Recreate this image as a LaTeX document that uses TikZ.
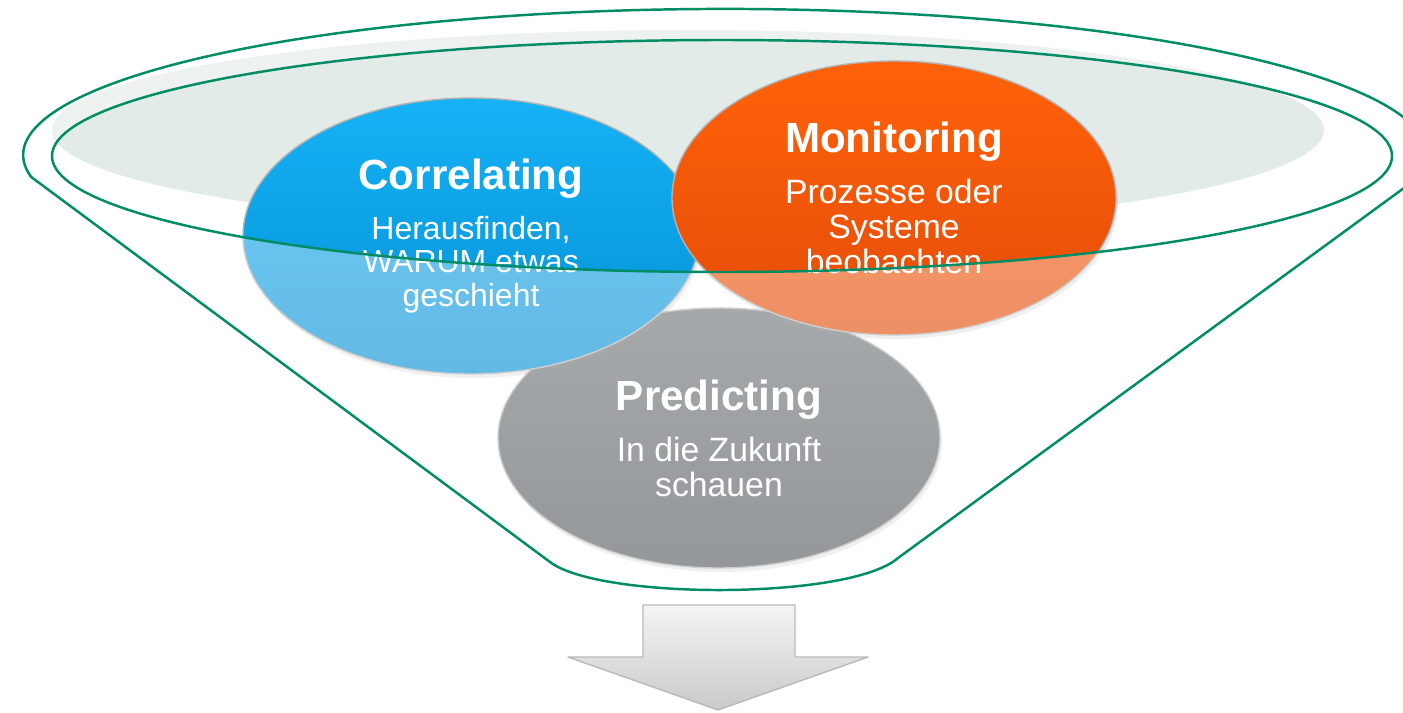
\documentclass[tikz,border=0pt]{standalone}
\usepackage{fontspec}
\setmainfont{Liberation Sans}
\usetikzlibrary{shapes.geometric,shadows}
\definecolor{trichter}{RGB}{0,140,100}
\definecolor{hgrund}{RGB}{227,235,232}
\definecolor{blauA}{RGB}{22,178,245}
\definecolor{blauB}{RGB}{3,143,213}
\definecolor{orangeA}{RGB}{255,98,10}
\definecolor{orangeB}{RGB}{228,76,8}
\definecolor{grauA}{RGB}{112,117,120}
\definecolor{grauB}{RGB}{84,89,93}
\newcommand{\blasentitel}[1]{{\fontsize{12}{14}\selectfont\bfseries #1}}
\begin{document}
\begin{tikzpicture}[line cap=round, line join=round,
    blase/.style={ellipse, inner sep=0pt, outer sep=0pt, text=white, align=center,
      font=\fontsize{9.6}{10}\selectfont, draw=black!30, line width=0.4pt,
      drop shadow={opacity=0.18, shadow xshift=0.02cm, shadow yshift=-0.04cm}},
    rand/.style={draw=trichter, line width=0.7pt},
    pfeil/.style={top color=gray!8, bottom color=gray!42, draw=gray!55, line width=0.4pt}]
  \useasboundingbox (0,0) rectangle (14.03,7.12);
  \clip (0,0) rectangle (14.03,7.12);
  % 背景浅灰椭圆
  \fill[hgrund] (6.88,5.82) ellipse [x radius=6.36, y radius=1.00];
  % 三个椭圆，先下后上
  \node[blase, minimum width=4.42cm, minimum height=2.60cm,
    top color=grauA, bottom color=grauB] (pred) at (7.19,2.74)
    {\blasentitel{Predicting}\\[4.5pt]In die Zukunft\\schauen};
  \node[blase, minimum width=4.56cm, minimum height=2.76cm, font=\fontsize{9.1}{9.6}\selectfont,
    top color=blauA, bottom color=blauB] (corr) at (4.71,4.76)
    {\blasentitel{Correlating}\\[4.5pt]Herausfinden,\\WARUM etwas\\geschieht};
  \node[blase, minimum width=4.44cm, minimum height=2.74cm,
    top color=orangeA, bottom color=orangeB] (moni) at (8.94,5.14)
    {\blasentitel{Monitoring}\\[4.5pt]Prozesse oder\\Systeme\\beobachten};
  % 漏斗：外轮廓加内椭圆，中间半透明白
  \draw[rand, fill=white, fill opacity=0.38, even odd rule]
    (14.19,5.35) arc[start angle=-8.7, end angle=188.7, x radius=7.02, y radius=1.46]
    -- (5.50,1.50) .. controls (6.00,1.12) and (8.50,1.12) .. (8.98,1.54) -- cycle
    (7.22,5.56) ellipse [x radius=6.70, y radius=1.16];
  % 向下箭头
  \draw[pfeil] (6.43,1.07) -- (7.95,1.07) -- (7.95,0.55) -- (8.68,0.55)
    -- (7.18,0.02) -- (5.68,0.55) -- (6.43,0.55) -- cycle;
\end{tikzpicture}
\end{document}
